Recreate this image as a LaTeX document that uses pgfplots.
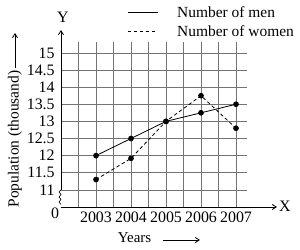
\documentclass[border=0pt]{standalone}
\usepackage{fontspec}
\setmainfont{Liberation Serif}
\usepackage{pgfplots}
\pgfplotsset{compat=1.18}
\usetikzlibrary{arrows.meta}
\begin{document}
\begin{tikzpicture}[x=1bp,y=1bp]
\path[use as bounding box] (-61,-43) rectangle (239,207);
% grid
\foreach \k in {1,...,10} \draw[black!55,line width=0.6bp] (17.5*\k,0) -- (17.5*\k,165);
\foreach \k in {1,...,9} \draw[black!55,line width=0.6bp] (0,17.125*\k) -- (186,17.125*\k);
% axes
\draw[line width=0.8bp,-{Straight Barb[length=4bp,width=5bp]}] (0,0) -- (216,0);
\draw[line width=0.8bp,-{Straight Barb[length=4bp,width=5bp]}] (0,17.125) -- (0,177);
\draw[line width=0.6bp] (0,17.125) -- (-2,15) -- (0,12.5) -- (-2,10) -- (0,7.5) -- (-2,5) -- (0,2.5);
\begin{axis}[
  at={(0,0)}, anchor=south west,
  scale only axis, x=35bp, y=34.25bp,
  xmin=2002, xmax=2008.17, ymin=10.5, ymax=15.67,
  axis lines=left, axis line style={draw=none},
  tick style={draw=none},
  xtick={2003,2004,2005,2006,2007},
  xticklabels={2003,2004,2005,2006,2007},
  ytick={11,11.5,12,12.5,13,13.5,14,14.5,15},
  yticklabels={11,11.5,12,12.5,13,13.5,14,14.5,15},
  ticklabel style={font=\fontsize{16}{18}\selectfont},
  yticklabel style={inner sep=1pt, xshift=-3bp},
  xticklabel style={inner sep=1pt, yshift=-2bp},
  clip=false,
]
\addplot[black, line width=0.8bp, mark=*, mark size=2.4bp] coordinates {
  (2003,12) (2004,12.5) (2005,13) (2006,13.25) (2007,13.5)};
\addplot[black, line width=0.8bp, dash pattern=on 3.5bp off 2.5bp, mark=*, mark size=2.4bp, mark options={solid}] coordinates {
  (2003,11.3) (2004,11.92) (2005,13) (2006,13.75) (2007,12.8)};
\end{axis}
% labels
\node[font=\fontsize{16}{18}\selectfont] at (-6,-6) {0};
\node[font=\fontsize{16}{18}\selectfont] at (2,190) {Y};
\node[font=\fontsize{16}{18}\selectfont] at (224,1) {X};
\node[font=\fontsize{15}{17}\selectfont] at (73.5,-31) {Years};
\draw[line width=0.8bp,-{Straight Barb[length=4bp,width=5bp]}] (102,-33) -- (139,-33);
\node[rotate=90,font=\fontsize{15.5}{17}\selectfont] at (-46,68) {Population (thousand)};
\draw[line width=0.8bp,-{Straight Barb[length=4bp,width=5bp]}] (-46,139) -- (-46,174);
% legend
\draw[black, line width=0.8bp] (67,195) -- (97,195);
\node[anchor=west,inner sep=0pt,font=\fontsize{15.5}{17}\selectfont] at (116,195) {Number of men};
\draw[black, line width=0.8bp, dash pattern=on 3.5bp off 2.5bp] (67,176) -- (97,176);
\node[anchor=west,inner sep=0pt,font=\fontsize{15.5}{17}\selectfont] at (116,176) {Number of women};
\end{tikzpicture}
\end{document}
